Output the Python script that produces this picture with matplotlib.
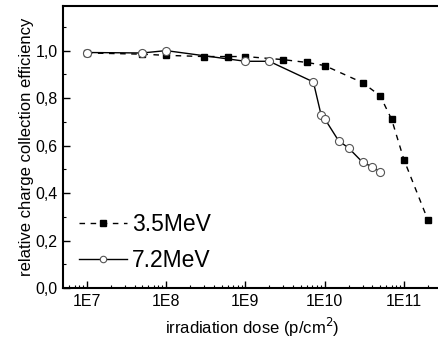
import matplotlib
matplotlib.use("Agg")
import matplotlib.pyplot as plt
from matplotlib.ticker import LogLocator, FixedLocator, MultipleLocator, FuncFormatter, NullFormatter

plt.rcParams['font.family'] = ['Liberation Sans', 'DejaVu Sans']

dose_35 = [1e7, 5e7, 1e8, 3e8, 6e8, 1e9, 3e9, 6e9, 1e10, 3e10, 5e10, 7e10, 1e11, 2e11]
cce_35 = [0.99, 0.985, 0.98, 0.975, 0.975, 0.975, 0.962, 0.95, 0.937, 0.865, 0.81, 0.71, 0.54, 0.287]

dose_72 = [1e7, 5e7, 1e8, 1e9, 2e9, 7.2e9, 9e9, 1e10, 1.5e10, 2e10, 3e10, 4e10, 5e10]
cce_72 = [0.992, 0.99, 1.0, 0.955, 0.955, 0.868, 0.73, 0.713, 0.62, 0.59, 0.53, 0.51, 0.49]

xticks = [1e7, 1e8, 1e9, 1e10, 1e11]
xticklabels = ['1E7', '1E8', '1E9', '1E10', '1E11']
yticks = [0.0, 0.2, 0.4, 0.6, 0.8, 1.0]

fig = plt.figure(figsize=(4.38, 3.45), dpi=100)
L, B, T = 63/438, 1-288/345, 1-5.5/345
R = 441/438
ax = fig.add_axes([L, B, R-L, T-B])

ax.plot(dose_35, cce_35, linestyle=(0, (4, 4)), color='black', lw=1.0,
        marker='s', markersize=4.8, markerfacecolor='black', markeredgecolor='black',
        label='3.5MeV')
ax.plot(dose_72, cce_72, linestyle='-', color='black', lw=1.0,
        marker='o', markersize=5.8, markerfacecolor='white', markeredgecolor='#555555',
        markeredgewidth=0.8, label='7.2MeV')

ax.set_xscale('log')
ax.set_xlim(10**6.7, 10**11.467)
ax.set_ylim(0, 1.19)

ax.xaxis.set_major_locator(FixedLocator(xticks))
ax.set_xticklabels(xticklabels)
ax.xaxis.set_minor_locator(LogLocator(base=10, subs=range(2, 10), numticks=20))
ax.xaxis.set_minor_formatter(NullFormatter())
ax.yaxis.set_major_locator(FixedLocator(yticks))
ax.yaxis.set_minor_locator(MultipleLocator(0.1))
ax.yaxis.set_major_formatter(FuncFormatter(lambda v, p: f"{v:.1f}".replace('.', ',')))

ax.tick_params(which='major', direction='in', length=5, width=1.0, labelsize=11.5, pad=4)
ax.tick_params(which='minor', direction='in', length=2.5, width=0.8)
ax.tick_params(axis='x', which='major', labelsize=11.5)
for s in ax.spines.values():
    s.set_linewidth(1.5)

ax.set_xlabel('irradiation dose (p/cm$^{2}$)', fontsize=12, labelpad=5)
ax.set_ylabel('relative charge collection efficiency', fontsize=12, labelpad=1)

leg = ax.legend(loc='lower left', bbox_to_anchor=(0.0, 0.0), frameon=False,
                fontsize=16.5, handlelength=2.1, handletextpad=0.2, labelspacing=0.55,
                markerscale=0.8, borderaxespad=0.3)

fig.savefig('out.png', dpi=100)
